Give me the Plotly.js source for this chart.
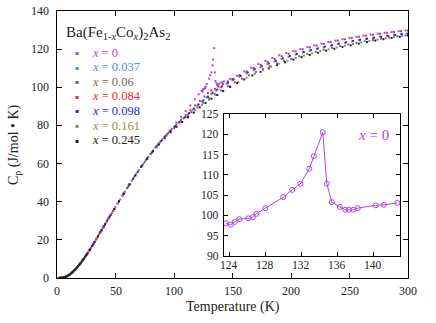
<!DOCTYPE html>
<html>
<head>
<meta charset="utf-8">
<script src="https://cdn.plot.ly/plotly-3.0.1.min.js"></script>
<style>html,body{margin:0;padding:0;background:#fff;}#chart{width:436px;height:323px;}</style>
</head>
<body>
<div id="chart"></div>
<script>
// ---- data ----
var seriesLabels = ['<i>x</i> = 0', '<i>x</i> = 0.037', '<i>x</i> = 0.06', '<i>x</i> = 0.084', '<i>x</i> = 0.098', '<i>x</i> = 0.161', '<i>x</i> = 0.245'];
var seriesColors = ['#b044e6', '#4a8cf5', '#7d6458', '#f02a2a', '#2626e0', '#a08a38', '#222222'];

var t_x0 = [2,4,6,8,10,12,14,16,18,20,23,26,29,32,35,38,41,44,47,50,54,58,62,66,70,74,78,82,86,90,94,98,102,106,110,114,118,121,123.6,124.15,124.6,125.1,126.1,126.6,127.0,128.0,130.0,131.0,131.9,132.9,133.4,134.4,134.85,135.4,136.3,136.9,137.3,137.8,138.3,140.3,141.2,142.7,148,154,160,166,172,178,184,190,196,202,208,214,220,226,232,238,244,250,256,262,268,274,280,286,292,298];
var cp_x0 = [0.05,0.15,0.4,0.85,1.5,2.4,3.5,4.8,6.2,7.7,10.2,12.9,15.8,18.8,21.9,25.0,28.1,31.2,34.2,37.2,41.2,45.2,49.1,52.9,56.6,60.1,63.5,66.7,69.8,72.7,75.5,78.2,81.5,84.5,87.5,90.5,93.7,96.3,98.1,97.7,98.4,99.1,99.3,99.6,100.4,101.8,104.5,106.3,107.8,111.5,114.6,120.5,107.8,103.3,102.1,101.4,101.4,101.4,101.8,102.5,102.6,103.1,104.3,106.0,108.3,110.3,112.2,113.9,115.4,116.8,118.0,119.1,120.1,121.1,122.0,122.9,123.7,124.5,125.2,125.9,126.5,127.1,127.6,128.1,128.6,129.0,129.4,129.8];

var t_x037 = [3,5,7,9,11,13,15,17,19,21,24,27,30,33,36,39,42,45,48,52,56,60,64,68,72,76,80,84,88,92,96,100,104,108,112,116,120,124,128,132,136,140,145,150,156,162,168,174,180,186,192,198,204,210,216,222,228,234,240,246,252,258,264,270,276,282,288,294,299];
var cp_x037 = [0.1,0.28,0.6,1.15,1.95,2.95,4.15,5.5,6.95,8.5,11.1,13.9,16.8,19.8,22.9,26.0,29.1,32.2,35.2,39.2,43.2,47.2,51.0,54.8,58.4,61.8,65.1,68.3,71.3,74.1,76.8,79.2,81.4,83.7,86.0,88.3,90.5,92.6,94.6,96.5,98.3,100.0,101.9,103.6,105.5,107.3,109.0,110.6,112.1,113.5,114.8,116.0,117.1,118.2,119.2,120.1,121.0,121.8,122.6,123.3,124.0,124.7,125.3,125.9,126.5,127.0,127.5,127.9,128.2];

var t_x06 = [2.5,4.5,6.5,8.5,10.5,12.5,15,17.5,20,22.5,25,28,31,34,37,40,44,48,52,56,60,65,70,75,80,85,90,95,100,105,110,115,120,125,130,135,140,146,152,158,164,170,176,182,188,194,200,207,214,221,228,235,242,249,256,263,270,277,284,291,298];
var cp_x06 = [0.07,0.2,0.5,1.0,1.7,2.65,4.1,5.85,7.7,9.8,12.0,14.8,17.8,20.9,24.0,27.1,31.2,35.2,39.2,43.2,47.1,52.0,56.6,61.0,65.0,68.9,72.5,75.9,79.0,81.7,84.4,87.0,89.5,91.9,94.2,96.4,98.4,100.6,102.6,104.5,106.3,108.0,109.6,111.1,112.5,113.8,115.0,116.3,117.5,118.6,119.7,120.7,121.6,122.5,123.3,124.1,124.8,125.5,126.1,126.7,127.2];

var t_x084 = [2,3.5,5,6.5,8,9.5,11,12.5,14,15.5,17,18.5,20,21.5,23,24.5,26,27.5,29,30.5,32,33.5,35,36.5,38,39.5,41,42.5,44,46,48,52,57,62,67,72,77,82,87,92,97,102,106,110,114,118,122,126,129,132,135,138,142,146,150,156,162,168,174,180,186,192,198,204,210,216,222,228,234,240,246,252,258,264,270,276,282,288,294,300];
var cp_x084 = [0.05,0.12,0.25,0.5,0.85,1.3,1.9,2.65,3.5,4.45,5.5,6.6,7.7,8.9,10.2,11.5,12.9,14.3,15.8,17.3,18.8,20.3,21.9,23.4,25.0,26.5,28.1,29.6,31.2,33.2,35.2,39.2,44.2,49.1,53.8,58.4,62.7,66.7,70.5,74.0,77.3,80.3,82.9,85.5,88.0,90.5,92.9,95.2,97.0,98.3,99.2,100.3,101.7,103.1,104.4,106.4,108.3,110.1,111.8,113.4,114.9,116.3,117.6,118.8,119.9,120.9,121.9,122.8,123.7,124.5,125.2,125.9,126.5,127.1,127.6,128.1,128.6,129.0,129.4,129.8];

var t_x098 = [2,4,6,8,10,13,16,19,22,25,28,31,34,37,40,43,46,49,53,57,61,65,69,73,77,81,85,89,93,97,101,105,109,113,117,121,125,129,133,137,141,146,151,157,163,169,175,181,187,193,199,205,211,217,223,229,235,241,247,253,259,265,271,277,283,289,295,300];
var cp_x098 = [0.05,0.15,0.4,0.85,1.5,2.95,4.8,6.95,9.4,12.0,14.8,17.8,20.9,24.0,27.1,30.2,33.2,36.2,40.2,44.2,48.1,52.0,55.7,59.2,62.6,65.8,68.9,71.8,74.6,77.2,79.6,81.9,84.2,86.5,88.8,91.0,93.1,95.1,97.0,98.8,100.5,102.4,104.1,106.0,107.8,109.5,111.0,112.5,113.9,115.2,116.4,117.5,118.5,119.5,120.4,121.3,122.1,122.9,123.6,124.3,124.9,125.5,126.0,126.5,127.0,127.4,127.8,128.1];

var t_x161 = [1.5,3,4.5,6,7.5,9,10.5,12,13.5,15,16.5,18,20,22,24,27,30,34,38,42,47,52,58,64,70,76,82,88,94,100,106,112,118,124,130,136,142,148,155,162,169,176,183,190,197,204,211,218,225,232,239,246,253,260,267,274,281,288,295];
var cp_x161 = [0.03,0.1,0.2,0.4,0.72,1.15,1.7,2.4,3.2,4.15,5.15,6.2,7.7,9.4,11.1,13.9,16.8,20.9,25.0,29.1,34.2,39.2,45.2,51.0,56.6,61.8,66.7,71.0,74.9,78.5,81.8,85.0,88.0,90.8,93.4,95.9,98.2,100.4,102.8,105.0,107.1,109.0,110.8,112.4,113.9,115.3,116.6,117.8,118.9,119.9,120.9,121.8,122.7,123.5,124.3,125.0,125.7,126.3,126.9];

var t_x245 = [2,3,4,5,6,7,8,9,10,11,12,13,14,15,16,17,18,19,20,21,22,23,24,25,26,28,30,32,35,38,41,45,49,53,57,62,67,72,77,82,87,92,97,102,107,112,117,122,127,132,137,142,148,154,160,167,174,181,188,195,202,209,216,223,230,237,244,251,258,265,272,279,286,293,300];
var cp_x245 = [0.05,0.1,0.15,0.25,0.4,0.6,0.85,1.15,1.5,1.9,2.4,2.95,3.5,4.15,4.8,5.5,6.2,6.95,7.7,8.5,9.4,10.2,11.1,12.0,12.9,14.8,16.8,18.8,21.9,25.0,28.1,32.2,36.2,40.2,44.2,49.1,53.8,58.3,62.5,66.4,70.0,73.3,76.4,79.2,81.8,84.3,86.7,89.5,91.8,94.0,96.0,98.0,100.2,102.2,104.1,106.2,108.1,109.9,111.6,113.1,114.5,115.8,117.0,118.1,119.2,120.2,121.1,122.0,122.9,123.7,124.5,125.2,125.9,126.5,127.1];

// inset: x = 0 near the transition
var inset_t = [123.6,124.15,124.6,125.1,126.1,126.6,127.0,128.0,130.0,131.0,131.9,132.9,133.4,134.4,134.85,135.4,136.3,136.9,137.3,137.8,138.3,140.3,141.2,142.7];
var inset_cp = [98.1,97.7,98.4,99.1,99.3,99.6,100.4,101.8,104.5,106.3,107.8,111.5,114.6,120.5,107.8,103.3,102.1,101.4,101.4,101.4,101.8,102.5,102.6,103.1];

// tick labels
var xTickVals = [0, 50, 100, 150, 200, 250, 300];
var yTickVals = [0, 20, 40, 60, 80, 100, 120, 140];
var insetXTickVals = [124, 128, 132, 136, 140];
var insetYTickVals = [90, 95, 100, 105, 110, 115, 120, 125];

var legendTitle = 'Ba(Fe<sub>1-<i>x</i></sub>Co<sub><i>x</i></sub>)<sub>2</sub>As<sub>2</sub>';
var xTitle = 'Temperature (K)';
var yTitle = 'C<sub>p</sub> (J/mol • K)';
var insetLabel = '<i>x</i> = 0';

// ---- build ----
var allT = [t_x0, t_x037, t_x06, t_x084, t_x098, t_x161, t_x245];
var allCp = [cp_x0, cp_x037, cp_x06, cp_x084, cp_x098, cp_x161, cp_x245];
var serif = 'Liberation Serif';
var txt = '#222';

var traces = [];
for (var i = 0; i < allT.length; i++) {
  traces.push({
    type: 'scatter', mode: 'markers', x: allT[i], y: allCp[i],
    xaxis: 'x', yaxis: 'y', showlegend: false, name: seriesLabels[i],
    marker: {symbol: 'square', size: 2, color: seriesColors[i], line: {width: 0}}
  });
}
traces.push({
  type: 'scatter', mode: 'lines+markers', x: inset_t, y: inset_cp,
  xaxis: 'x2', yaxis: 'y2', showlegend: false,
  line: {color: seriesColors[0], width: 1},
  marker: {symbol: 'circle-open', size: 5, color: seriesColors[0], line: {width: 1}}
});

// plot area in px: left 57, right 408, top 11, bottom 278
function px2x(px) { return (px - 57) / 351; }
function py2y(py) { return (278 - py) / 267; }

var annotations = [];
function ann(o) { o.showarrow = false; o.borderpad = 0; annotations.push(o); }

// legend
ann({xref: 'paper', yref: 'paper', x: px2x(65), y: py2y(33), xanchor: 'left', yanchor: 'middle',
  text: legendTitle, font: {family: serif, size: 15, color: txt}});
for (var j = 0; j < seriesLabels.length; j++) {
  var yy = py2y(52.5 + j * 14.6);
  ann({xref: 'paper', yref: 'paper', x: px2x(77), y: yy, xanchor: 'center', yanchor: 'middle',
    text: '▪', font: {family: 'DejaVu Sans', size: 6, color: seriesColors[j]}});
  ann({xref: 'paper', yref: 'paper', x: px2x(91), y: yy, xanchor: 'left', yanchor: 'middle',
    text: seriesLabels[j], font: {family: serif, size: 12.5, color: seriesColors[j]}});
}
// inset label
ann({xref: 'paper', yref: 'paper', x: px2x(373), y: py2y(135), xanchor: 'center', yanchor: 'middle',
  text: insetLabel, font: {family: serif, size: 15, color: seriesColors[0]}});

// tick labels (placed through the axes)
xTickVals.forEach(function (v) {
  ann({xref: 'x', yref: 'paper', x: v, y: py2y(290.5), xanchor: 'center', yanchor: 'middle',
    text: String(v), font: {family: serif, size: 12, color: txt}});
});
yTickVals.forEach(function (v) {
  ann({xref: 'paper', yref: 'y', x: px2x(49.5), y: v, xanchor: 'right', yanchor: 'middle',
    text: String(v), font: {family: serif, size: 12, color: txt}});
});
insetXTickVals.forEach(function (v) {
  ann({xref: 'x2', yref: 'paper', x: v, y: py2y(265), xanchor: 'center', yanchor: 'middle',
    text: String(v), font: {family: serif, size: 11.5, color: txt}});
});
insetYTickVals.forEach(function (v) {
  ann({xref: 'paper', yref: 'y2', x: px2x(220), y: v, xanchor: 'right', yanchor: 'middle',
    text: String(v), font: {family: serif, size: 11.5, color: txt}});
});
// axis titles
ann({xref: 'paper', yref: 'paper', x: px2x(232.5), y: py2y(307), xanchor: 'center', yanchor: 'middle',
  text: xTitle, font: {family: serif, size: 14, color: txt}});
ann({xref: 'paper', yref: 'paper', x: px2x(14), y: py2y(145), xanchor: 'center', yanchor: 'middle', textangle: -90,
  text: yTitle, font: {family: serif, size: 14, color: txt}});

var axisCommon = {showline: true, linecolor: '#000', linewidth: 1, mirror: 'ticks', ticks: 'inside',
  tickcolor: '#000', showgrid: false, zeroline: false, showticklabels: false};

var layout = {
  width: 436, height: 323,
  margin: {l: 57, r: 28, t: 11, b: 45},
  paper_bgcolor: '#fff', plot_bgcolor: '#fff',
  showlegend: false,
  font: {family: serif, size: 12, color: txt},
  xaxis: Object.assign({}, axisCommon, {range: [0, 300], tickmode: 'array', tickvals: xTickVals, ticklen: 5}),
  yaxis: Object.assign({}, axisCommon, {range: [0, 140], tickmode: 'array', tickvals: yTickVals, ticklen: 5}),
  xaxis2: Object.assign({}, axisCommon, {anchor: 'y2', domain: [px2x(224), px2x(400)], range: [123.4, 143], tickmode: 'array', tickvals: insetXTickVals, ticklen: 4}),
  yaxis2: Object.assign({}, axisCommon, {anchor: 'x2', domain: [py2y(256), py2y(114)], range: [90, 125], tickmode: 'array', tickvals: insetYTickVals, ticklen: 4}),
  annotations: annotations
};

Plotly.newPlot('chart', traces, layout, {displayModeBar: false, staticPlot: true});
</script>
</body>
</html>
